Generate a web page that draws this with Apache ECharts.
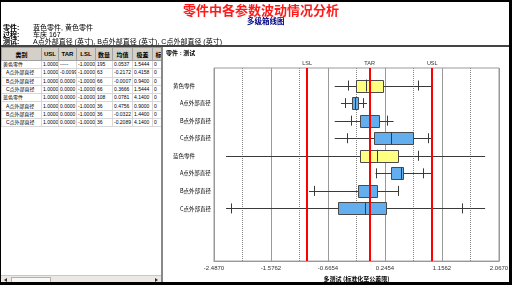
<!DOCTYPE html>
<html>
<head>
<meta charset="utf-8">
<script src="https://cdn.jsdelivr.net/npm/echarts@6/dist/echarts.min.js"></script>
<style>
html, body { margin: 0; padding: 0; background: #fff; }
body { width: 515px; height: 287px; position: relative; overflow: hidden;
  font-family: "Liberation Sans", "Noto Sans CJK SC", sans-serif; color: #000; }
#chart { position: absolute; left: 0; top: 0; width: 515px; height: 287px; }
.frame { position: absolute; left: 0; top: 0; width: 512px; height: 285px; box-sizing: border-box;
  border-style: solid; border-color: #000; border-width: 2px 3px 3px 1px; pointer-events: none; }
.info { position: absolute; left: 3px; font-size: 7px; line-height: 7px; white-space: nowrap; }
.info b { display: inline-block; width: 30px; }
.sep { position: absolute; left: 1px; top: 45px; width: 510px; height: 2px; background: #444; }
.left { position: absolute; left: 1px; top: 47px; width: 160px; height: 236px; overflow: hidden; background: #fff; }
.divider { position: absolute; left: 161px; top: 47px; width: 2px; height: 236px; background: #888; }
.panel-title { position: absolute; left: 166px; top: 50px; font-size: 6px; line-height: 6px; font-weight: bold; }
table { border-collapse: collapse; table-layout: fixed; width: 163px; }
th { background: #d4d0c8; height: 12px; font-size: 6px; font-weight: bold; padding: 0;
  border: 1px solid #a0a0a0; text-align: center; overflow: hidden; white-space: nowrap; }
td { height: 7.3px; font-size: 5px; line-height: 7px; padding: 0 1px; border: 1px solid #d8d8d8;
  overflow: hidden; white-space: nowrap; }
td.sub { padding-left: 4px; }
.scroll { position: absolute; left: 1px; top: 275px; width: 160px; height: 8px; background: #ece9e4;
  border-top: 1px solid #c8c8c8; }
.scroll .thumb { position: absolute; left: 10px; top: 1px; width: 40px; height: 6px; background: #f8f8f8;
  border: 1px solid #b0b0b0; box-sizing: border-box; }
.scroll .arr { position: absolute; top: 2px; width: 0; height: 0; border-top: 2px solid transparent;
  border-bottom: 2px solid transparent; }
</style>
</head>
<body>
<div id="chart"></div>

<div class="info" style="top:24px"><b>零件:</b>蓝色零件, 黄色零件</div>
<div class="info" style="top:31px"><b>过程:</b>车床 167</div>
<div class="info" style="top:38px"><b>测试:</b>A点外部直径 (英寸), B点外部直径 (英寸), C点外部直径 (英寸)</div>
<div class="sep"></div>

<div class="left"><table id="tbl"></table></div>
<div class="scroll">
  <div class="arr" style="left:3px;border-right:3px solid #333"></div>
  <div class="thumb"></div>
  <div class="arr" style="left:154px;border-left:3px solid #333"></div>
</div>
<div class="divider"></div>
<div class="panel-title">零件 : 测试</div>
<div class="frame"></div>

<script>
// rows of the chart (top to bottom), 1 = part group, 2 = measured point
var rowNames = ['黄色零件', 'A点外部直径', 'B点外部直径', 'C点外部直径',
                '蓝色零件', 'A点外部直径', 'B点外部直径', 'C点外部直径'];
var rowLevel = [1, 2, 2, 2, 1, 2, 2, 2];

// standardized to tolerance limits
var minVals   = [-0.558, -0.458, -0.558, -0.558, -2.295, 0.094, -0.969, -2.295];
var lowMarks  = [-0.341, -0.394, -0.303, -0.367, -1.017, 0.097, -0.884, -2.220];
var q1Vals    = [-0.213, -0.277, -0.154,  0.065, -0.154, 0.345, -0.181, -0.501];
var medVals   = [-0.053, -0.229,  0.006,  0.337,  0.122, 0.496, -0.005, -0.079];
var q3Vals    = [ 0.225, -0.175,  0.145,  0.688,  0.458, 0.541,  0.122,  0.261];
var highMarks = [ 0.778, -0.106,  0.282,  0.937,  0.778, 0.845,  0.458,  1.481];
var maxVals   = [ 0.986, -0.042,  0.382,  0.986,  1.845, 0.994,  0.471,  1.845];

var specNames = ['LSL', 'TAR', 'USL'];
var specVals = [-1, 0, 1];

var xTicks = [-2.4870, -1.5762, -0.6654, 0.2454, 1.1562, 2.0670];
var xMinorTicks = [-2.0316, -1.1208, -0.2100, 0.7008, 1.6116];

// summary table on the left
var tableHead = ['类别', 'USL', 'TAR', 'LSL', '数量', '均值', '极差', '标'];
var colWidths = [40, 17, 18, 19, 17, 20, 20, 12];
var uslCol   = ['1.0000', '1.0000', '1.0000', '1.0000', '1.0000', '1.0000', '1.0000', '1.0000'];
var tarCol   = ['-----', '-0.0099', '0.0000', '0.0000', '0.0000', '0.0000', '0.0000', '0.0000'];
var lslCol   = ['-1.0000', '-1.0000', '-1.0000', '-1.0000', '-1.0000', '-1.0000', '-1.0000', '-1.0000'];
var countCol = ['195', '63', '66', '66', '108', '36', '36', '36'];
var meanCol  = ['0.0537', '-0.2172', '-0.0007', '0.3666', '0.0781', '0.4756', '-0.0322', '-0.2089'];
var rangeCol = ['1.5444', '0.4158', '0.9400', '1.5444', '4.1400', '0.9000', '1.4400', '4.1400'];
var stdCol   = ['0', '0', '0', '0', '0', '0', '0', '0'];

var html = '<colgroup>' + colWidths.map(function (w) { return '<col style="width:' + w + 'px">'; }).join('') + '</colgroup>';
html += '<tr>' + tableHead.map(function (h) { return '<th>' + h + '</th>'; }).join('') + '</tr>';
rowNames.forEach(function (n, i) {
  html += '<tr><td class="' + (rowLevel[i] === 2 ? 'sub' : '') + '">' + n + '</td>' +
    [uslCol[i], tarCol[i], lslCol[i], countCol[i], meanCol[i], rangeCol[i], stdCol[i]]
      .map(function (v) { return '<td>' + v + '</td>'; }).join('') + '</tr>';
});
document.getElementById('tbl').innerHTML = html;

var categories = [''].concat(rowNames, ['', '', '']);
var boxData = rowNames.map(function (n, i) {
  return [i + 1, minVals[i], lowMarks[i], q1Vals[i], medVals[i], q3Vals[i], highMarks[i], maxVals[i], rowLevel[i]];
});

function crisp(v) { return Math.round(v) + 0.5; }

var chart = echarts.init(document.getElementById('chart'), null, { renderer: 'canvas' });
chart.setOption({
  animation: false,
  textStyle: { fontFamily: '"Liberation Sans", "Noto Sans CJK SC", sans-serif' },
  title: [
    { text: '零件中各参数波动情况分析', left: 183, top: 4, padding: 0,
      textStyle: { color: '#ff1a1a', fontSize: 13, fontWeight: 'bold', fontFamily: 'Noto Sans CJK SC' } },
    { text: '多级箱线图', left: 247, top: 17, padding: 0,
      textStyle: { color: '#000080', fontSize: 7.5, fontWeight: 'bold', fontFamily: 'Noto Sans CJK SC' } }
  ],
  grid: { left: 214, top: 68, width: 285, height: 199, show: true, borderColor: '#999', borderWidth: 1 },
  xAxis: [{
    type: 'value', min: -2.487, max: 2.067,
    axisLine: { show: true, lineStyle: { color: '#999' } },
    axisTick: { show: false, customValues: xTicks },
    axisLabel: { customValues: xTicks, fontSize: 6, color: '#333', margin: 4,
      formatter: function (v) { return v.toFixed(4); } },
    splitLine: { show: true, lineStyle: { color: '#999', width: 1 } },
    name: '多测试 (标准化至公差限)', nameLocation: 'middle', nameGap: 14,
    nameTextStyle: { fontSize: 6, fontWeight: 'bold', color: '#000', fontFamily: 'Noto Sans CJK SC' }
  }, {
    type: 'value', min: -2.487, max: 2.067, position: 'top',
    axisLine: { show: false }, axisLabel: { show: false },
    axisTick: { show: false, customValues: xMinorTicks },
    splitLine: { show: true, lineStyle: { color: '#888', width: 1, type: [1, 1] } }
  }],
  yAxis: {
    type: 'category', data: categories, inverse: true, boundaryGap: false,
    axisLine: { show: false }, axisTick: { show: false }, splitLine: { show: false },
    axisLabel: {
      interval: 0, align: 'left', margin: 41, color: '#000',
      formatter: function (v, i) {
        if (!v) return '';
        return rowLevel[i - 1] === 1 ? '{g|' + v + '}' : '{s|' + v + '}';
      },
      rich: {
        g: { fontSize: 5.5, fontFamily: 'Noto Sans CJK SC', color: '#000' },
        s: { fontSize: 5.5, fontFamily: 'Noto Sans CJK SC', color: '#000', padding: [0, 0, 0, 7] }
      }
    }
  },
  series: [{
    type: 'custom',
    xAxisIndex: 0,
    data: boxData,
    encode: { x: [1, 2, 3, 4, 5, 6, 7], y: 0 },
    renderItem: function (params, api) {
      var r = api.value(0);
      var y = api.coord([0, r])[1];
      function px(k) { return api.coord([api.value(k), r])[0]; }
      var lineStyle = { stroke: '#3a3a3a', lineWidth: 1 };
      var boxH = 12, tickH = 10;
      var yc = crisp(y);
      var q1 = px(3), q3 = px(5);
      return {
        type: 'group',
        children: [
          { type: 'line', shape: { x1: px(1), y1: yc, x2: px(7), y2: yc }, style: lineStyle },
          { type: 'line', shape: { x1: crisp(px(2)), y1: y - tickH / 2, x2: crisp(px(2)), y2: y + tickH / 2 }, style: lineStyle },
          { type: 'line', shape: { x1: crisp(px(6)), y1: y - tickH / 2, x2: crisp(px(6)), y2: y + tickH / 2 }, style: lineStyle },
          { type: 'rect', shape: { x: crisp(q1), y: crisp(y - boxH / 2), width: Math.round(q3 - q1), height: boxH },
            style: { fill: api.value(8) === 1 ? '#ffff80' : '#62aeef', stroke: '#4a4a4a', lineWidth: 1 } },
          { type: 'line', shape: { x1: crisp(px(4)), y1: y - boxH / 2, x2: crisp(px(4)), y2: y + boxH / 2 }, style: lineStyle }
        ]
      };
    },
    markLine: {
      silent: true, symbol: ['none', 'none'], animation: false,
      lineStyle: { color: '#ff0000', width: 2, type: 'solid' },
      label: { show: true, position: 'end', formatter: '{b}', fontSize: 5.5, color: '#333', distance: 2 },
      data: specVals.map(function (v, i) {
        return [{ name: specNames[i], coord: [v, 11] }, { coord: [v, 0] }];
      })
    }
  }]
});
</script>
</body>
</html>
